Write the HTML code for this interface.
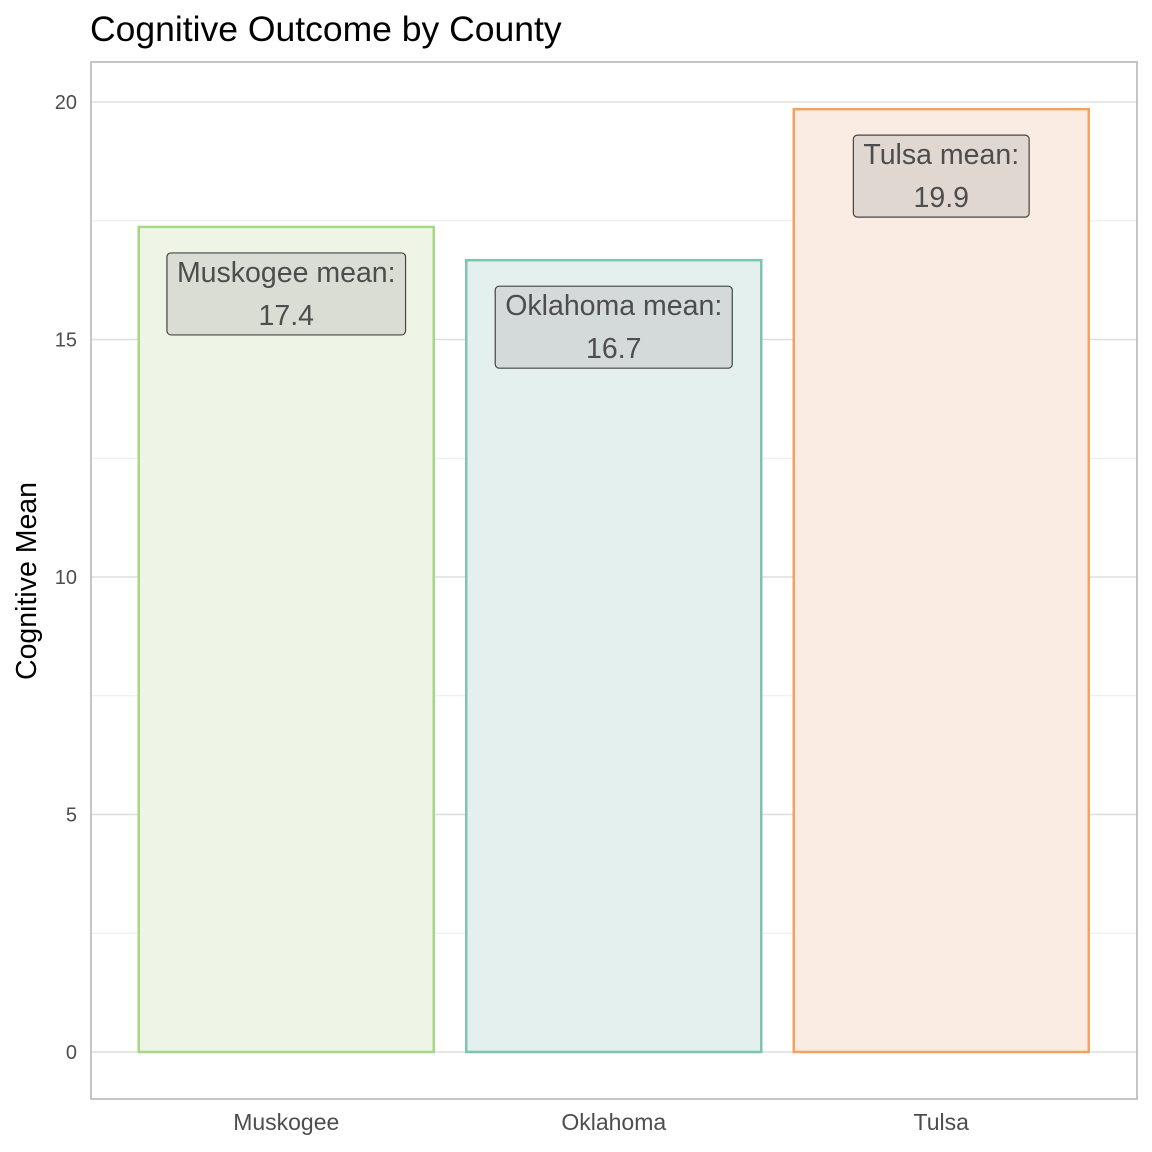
<!DOCTYPE html>
<html><head><meta charset="utf-8"><style>body{margin:0;background:#fff}svg{display:block;font-family:"Liberation Sans",sans-serif}</style></head>
<body>
<svg id="chart" width="1152" height="1152">
<rect width="1152" height="1152" fill="#fff"/>
<text x="90" y="41" font-size="35.5" fill="#000">Cognitive Outcome by County</text>
<text transform="translate(36,581) rotate(-90)" text-anchor="middle" font-size="28.5" fill="#000">Cognitive Mean</text>
<g id="grid"></g><g id="bars"></g><g id="labels"></g>
<rect x="91" y="62" width="1046" height="1037" fill="none" stroke="#b3b3b3" stroke-width="1.5"/>
</svg>
<script>
const categories=["Muskogee","Oklahoma","Tulsa"];
const values=[17.37,16.67,19.85];
const valueLabels=["17.4","16.7","19.9"];
const yTicks=[0,5,10,15,20];
const minorTicks=[2.5,7.5,12.5,17.5];
const strokes=["#a6d785","#7fc4b0","#f5a25e"];
const fills=["#eef5e6","#e4f0ee","#faece2"];
const NS="http://www.w3.org/2000/svg";
const y=v=>1052-v*47.5;
const band=327.5, x0=122.5;
const xc=i=>x0+band*(i+0.5);
function mk(t,a,p,txt){const e=document.createElementNS(NS,t);for(const k in a)e.setAttribute(k,a[k]);if(txt!==undefined)e.textContent=txt;p.appendChild(e);return e;}
const g=document.getElementById('grid'),b=document.getElementById('bars'),l=document.getElementById('labels');
minorTicks.forEach(v=>{const e=mk('line',{x1:91,x2:1137,y1:y(v),y2:y(v),stroke:'#ececec','stroke-width':1},g);

});
yTicks.forEach(v=>{const e=mk('line',{x1:91,x2:1137,y1:y(v),y2:y(v),stroke:'#dedede','stroke-width':1.4},g);


const t=mk('text',{x:77,y:y(v)+7,'text-anchor':'end','font-size':20,fill:'#4d4d4d'},g,String(v));

});
categories.forEach((c,i)=>{
const w=295,x=xc(i)-w/2;
const r=mk('rect',{x:x,y:y(values[i]),width:w,height:y(0)-y(values[i]),fill:fills[i],stroke:strokes[i],'stroke-width':2.5},b);


const t=mk('text',{x:xc(i),y:1130,'text-anchor':'middle','font-size':23,fill:'#4d4d4d'},b,c);


const top=y(values[i])+26;
const lb=mk('rect',{x:0,y:top,width:10,height:82,rx:4,fill:'rgba(185,185,185,0.4)',stroke:'#444','stroke-width':1.2},l);


const t1=mk('text',{x:xc(i),y:top+29,'text-anchor':'middle','font-size':28.5,fill:'#4d4d4d'},l,c+" mean:");


const t2=mk('text',{x:xc(i),y:top+72,'text-anchor':'middle','font-size':28.5,fill:'#4d4d4d'},l,valueLabels[i]);


const bw=t1.getComputedTextLength()+20;
lb.setAttribute('x',xc(i)-bw/2);
lb.setAttribute('width',bw);
});
</script>
</body></html>
